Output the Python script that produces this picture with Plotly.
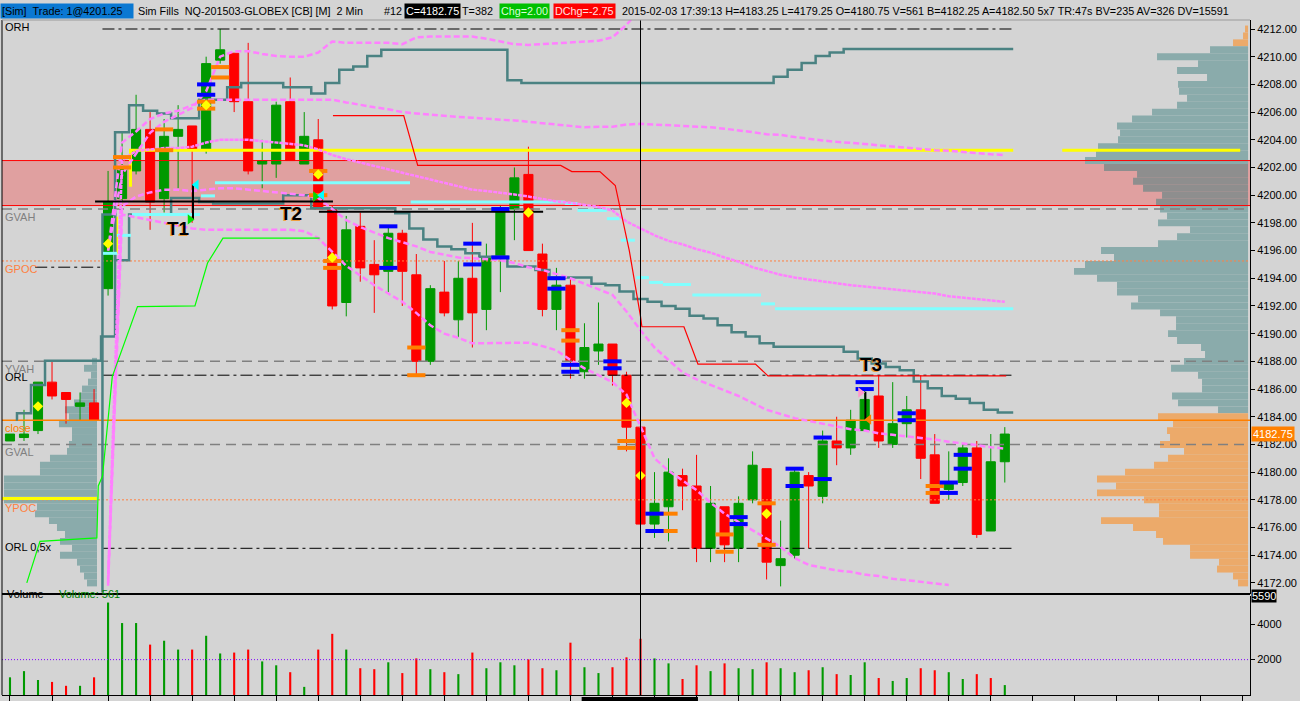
import plotly.graph_objects as go

# ---------------- data ----------------
bar_idx = list(range(72))

opens = [4182.25, 4182.5, 4183.0, 4186.5, 4185.75, 4184.75, 4185.0, 4193.25, 4199.75, 4201.75,
         4204.75, 4199.75, 4204.25, 4205.0, 4203.25, 4209.75, 4210.25, 4206.75, 4202.25, 4202.25,
         4206.75, 4202.25, 4204.0, 4199.0, 4192.25, 4197.75, 4195.0, 4194.5, 4197.25, 4194.25,
         4188.0, 4193.0, 4191.0, 4194.0, 4191.75, 4195.5, 4199.0, 4201.5, 4195.75, 4191.75,
         4193.5, 4187.25, 4188.75, 4189.25, 4187.0, 4183.25, 4176.25, 4177.5, 4179.75, 4179.0,
         4174.5, 4177.5, 4174.5, 4178.0, 4180.25, 4173.25, 4174.0, 4179.75, 4178.25, 4182.25,
         4181.75, 4183.0, 4185.5, 4182.0, 4183.5, 4184.5, 4181.25, 4178.75, 4179.25, 4181.75,
         4175.75, 4180.75]
highs = [4182.75, 4184.5, 4186.5, 4188.0, 4185.75, 4185.75, 4186.0, 4201.75, 4204.5, 4207.25,
         4206.0, 4205.5, 4206.5, 4205.0, 4210.0, 4212.0, 4210.25, 4211.0, 4204.0, 4206.75,
         4208.5, 4206.0, 4205.5, 4199.25, 4198.5, 4198.75, 4196.75, 4197.75, 4197.5, 4195.75,
         4193.5, 4195.25, 4195.25, 4198.0, 4196.5, 4199.25, 4202.0, 4203.5, 4196.5, 4194.75,
         4194.0, 4190.75, 4192.25, 4189.25, 4187.25, 4183.25, 4180.0, 4181.0, 4180.25, 4181.25,
         4179.0, 4177.5, 4178.25, 4181.5, 4180.25, 4176.5, 4180.25, 4180.0, 4183.0, 4184.0,
         4184.5, 4186.0, 4187.0, 4186.5, 4185.5, 4187.0, 4182.75, 4181.5, 4182.0, 4182.25,
         4182.75, 4183.25]
lows = [4182.25, 4182.25, 4182.75, 4185.25, 4183.5, 4183.75, 4183.75, 4192.75, 4199.5, 4201.5,
        4197.5, 4198.75, 4200.5, 4198.0, 4203.0, 4209.5, 4206.0, 4201.5, 4200.5, 4201.25,
        4202.5, 4202.25, 4199.0, 4191.75, 4191.25, 4193.75, 4191.5, 4193.0, 4192.0, 4187.0,
        4187.75, 4191.25, 4189.75, 4189.0, 4190.25, 4193.0, 4196.75, 4196.0, 4191.25, 4190.25,
        4186.75, 4186.75, 4187.75, 4186.25, 4181.5, 4176.0, 4175.25, 4175.0, 4177.25, 4173.5,
        4173.5, 4173.5, 4173.5, 4177.75, 4172.25, 4171.75, 4173.75, 4174.5, 4177.75, 4180.5,
        4181.25, 4183.0, 4181.75, 4181.75, 4182.5, 4179.5, 4177.75, 4178.0, 4179.0, 4175.25,
        4175.75, 4179.25]
closes = [4182.75, 4182.75, 4186.5, 4185.5, 4185.25, 4185.0, 4183.75, 4199.5, 4202.0, 4204.75,
          4199.5, 4204.25, 4204.75, 4203.25, 4209.5, 4210.5, 4206.75, 4201.75, 4202.5, 4206.5,
          4202.5, 4204.25, 4199.0, 4192.0, 4197.5, 4194.75, 4194.25, 4197.25, 4194.5, 4188.0,
          4193.25, 4191.5, 4194.0, 4191.5, 4195.5, 4199.0, 4201.25, 4196.0, 4191.75, 4193.5,
          4188.0, 4189.0, 4189.25, 4187.0, 4183.25, 4176.25, 4177.75, 4180.0, 4179.0, 4174.5,
          4177.75, 4174.75, 4177.75, 4180.5, 4173.5, 4173.75, 4180.0, 4179.0, 4182.25, 4181.75,
          4183.75, 4185.25, 4182.25, 4183.5, 4184.5, 4181.0, 4177.75, 4179.25, 4181.75, 4175.5,
          4180.75, 4182.75]

volumes = [1000, 1350, 850, 740, 520, 520, 1000, 5230, 4070, 4070,
           2850, 3070, 2570, 2570, 3350, 2350, 2400, 2570, 1900, 1680,
           1290, 460, 2570, 3460, 2570, 1515, 1460, 1850, 1240, 2070,
           1460, 1290, 1180, 2400, 1515, 1850, 1680, 2015, 1515, 1400,
           2960, 1570, 1240, 1570, 2130, 3180, 2070, 1790, 905, 1680,
           1350, 1790, 1515, 1460, 1850, 1515, 1290, 1400, 1570, 1180,
           1130, 1850, 960, 795, 960, 1515, 1400, 1290, 905, 1180,
           960, 561]
vol_dir = "GGGRRGRGGGRGGRGGRRGGRGRRGRRGRRGRGRGGGRRGRGGRRRGGRRGRGGRGGRGRGGRGGRRGGRRG"

price_ticks = list(range(4172, 4213, 2))
vol_ticks = [2000, 4000]
time_ticks = [0, 3] + list(range(7, 89, 3))

level_names = ["ORH", "GVAH", "GPOC", "YVAH", "ORL", "close", "GVAL", "YPOC", "ORL 0,5x"]
level_prices = [4212.0, 4199.0, 4195.25, 4188.0, 4187.0, 4183.75, 4182.0, 4178.0, 4174.5]

zone_low, zone_high = 4199.25, 4202.5
yellow_level = 4203.25

# developing value-area step lines (per bar)
teal_upper = [4183.8, 4184.25, 4186.3, 4188.05, 4188.05, 4188.05, 4188.05, 4189.8, 4204.55, 4206.5,
              4206.1, 4205.9, 4205.55, 4205.55, 4206.9, 4206.9, 4207.8, 4208.1, 4208.1, 4208.1,
              4207.8, 4207.8, 4207.35, 4208.1, 4209.05, 4209.3, 4210.05] + [4210.5] * 9 + [4208.3] + \
             [4208.1] * 18 + [4208.55, 4209.05, 4209.55, 4210.05, 4210.3] + [4210.55] * 12
teal_lower = [4198.6, 4195.3, 4198.6, 4198.6, 4198.6, 4199.8, 4199.8, 4199.5, 4199.4, 4199.4,
              4199.4, 4199.4, 4199.4, 4200.0, 4200.0, 4199.05, 4199.05, 4199.05, 4199.05, 4199.05,
              4199.05, 4198.7, 4197.6, 4196.8, 4196.3, 4196.1, 4195.8, 4195.55, 4195.55, 4194.85,
              4194.85, 4194.6, 4194.05, 4194.05, 4194.05, 4193.6, 4193.5, 4193.05, 4192.5, 4192.3,
              4192.0, 4191.8, 4191.3, 4191.1, 4190.6, 4190.1, 4189.8, 4189.3, 4189.05, 4189.05,
              4189.05, 4189.05, 4189.05, 4188.7, 4188.2, 4187.85, 4187.6, 4187.35, 4186.55, 4186.05,
              4185.5, 4185.3, 4185.0, 4184.5, 4184.3]   # bars 7..71

# VWAP and deviation bands (bars from 7)
vwap = [4172.3, 4202.5, 4203.2, 4203.3, 4203.4, 4203.4, 4203.5, 4203.8, 4204.0, 4204.0,
        4204.0, 4203.9, 4203.8, 4203.7, 4203.6, 4203.3, 4202.9, 4202.6, 4202.35, 4202.1,
        4201.85, 4201.6, 4201.4, 4201.1, 4200.9, 4200.6, 4200.4, 4200.3, 4200.2, 4200.05,
        4199.9, 4199.7, 4199.55, 4199.45, 4199.3, 4199.15, 4198.9, 4198.1, 4197.6, 4197.1,
        4196.7, 4196.45, 4196.1, 4195.85, 4195.5, 4195.2, 4194.8, 4194.5, 4194.25, 4194.05,
        4193.9, 4193.75, 4193.65, 4193.5, 4193.4, 4193.3, 4193.2, 4193.1, 4193.05, 4192.9,
        4192.7, 4192.6, 4192.45, 4192.35, 4192.3]
band_u1 = [4196.0, 4203.8, 4204.6, 4205.5, 4205.9, 4206.1, 4206.5, 4206.9, 4206.9, 4206.9,
           4206.9, 4206.9, 4206.9, 4206.9, 4206.9, 4206.9, 4206.9, 4206.7, 4206.5, 4206.35,
           4206.2, 4206.0, 4205.9, 4205.8, 4205.7, 4205.65, 4205.6, 4205.5, 4205.45, 4205.4,
           4205.3, 4205.2, 4205.1, 4205.0, 4204.9, 4204.95, 4204.95, 4205.1, 4205.15, 4205.1,
           4205.05, 4205.0, 4205.0, 4204.9, 4204.8, 4204.7, 4204.55, 4204.4, 4204.35, 4204.2,
           4204.05, 4203.95, 4203.85, 4203.8, 4203.7, 4203.6, 4203.5, 4203.45, 4203.35, 4203.25,
           4203.2, 4203.1, 4203.0, 4202.95, 4202.9]
band_u2 = [4196.0, 4201.5, 4203.0, 4204.5, 4205.3, 4205.8, 4206.3, 4207.5, 4210.0, 4210.4,
           4210.4, 4210.2, 4210.05, 4210.0, 4210.0, 4210.3, 4211.1, 4211.0, 4211.0, 4211.0,
           4211.0, 4210.9, 4211.4, 4211.45, 4211.45, 4211.45, 4211.45, 4211.3, 4211.1, 4210.9,
           4210.85, 4210.9, 4211.0, 4211.05, 4211.1, 4211.15, 4211.4, 4212.3, 4213.5]
band_l1 = [4172.0, 4199.2, 4199.9, 4200.2, 4200.4, 4200.4, 4200.3, 4200.4, 4200.5, 4200.5,
           4200.4, 4200.3, 4200.2, 4200.1, 4200.0, 4199.8, 4199.0, 4198.2, 4197.7, 4197.3,
           4196.9, 4196.6, 4196.3, 4195.9, 4195.7, 4195.5, 4195.45, 4195.4, 4195.3, 4195.1,
           4194.8, 4194.6, 4194.3, 4194.0, 4193.6, 4193.2, 4192.8, 4191.6, 4190.25, 4189.0,
           4188.1, 4187.2, 4186.7, 4186.3, 4185.9, 4185.5, 4185.0, 4184.5, 4184.2, 4183.9,
           4183.7, 4183.5, 4183.3, 4183.1, 4183.0, 4182.8, 4182.7, 4182.6, 4182.5, 4182.35,
           4182.2, 4182.1, 4181.95, 4181.8, 4181.7]
band_l2 = [4171.8, 4198.6, 4198.4, 4198.2, 4198.0, 4197.8, 4197.6, 4197.5, 4197.5, 4197.5,
           4197.5, 4197.5, 4197.5, 4197.5, 4197.4, 4196.9, 4195.9, 4194.9, 4194.2, 4193.5,
           4192.9, 4192.3, 4191.5, 4190.6, 4190.0, 4189.7, 4189.3, 4189.3, 4189.3, 4189.35,
           4189.35, 4189.1, 4188.8, 4188.1, 4187.5, 4187.0, 4186.5, 4185.6, 4183.3, 4181.0,
           4180.1, 4179.4, 4178.7, 4177.8, 4177.0, 4176.4, 4175.8, 4175.2, 4174.6, 4173.8,
           4173.3, 4173.1, 4172.9, 4172.8, 4172.6, 4172.5, 4172.3, 4172.2, 4172.1, 4172.0,
           4171.85]

# cyan stepping segments (start bar, end bar, price)
cyan_start = [6.64, 7.64, 8.7, 13.63, 14.63, 28.6, 39.6, 40.5, 42.6, 43.6, 44.7, 45.6, 46.6, 48.7, 53.6, 54.6]
cyan_end = [7.64, 8.64, 13.56, 14.63, 28.55, 39.6, 40.5, 42.6, 43.5, 44.6, 45.6, 46.6, 48.6, 53.6, 54.6, 71.6]
cyan_level = [4195.8, 4197.1, 4198.6, 4199.95, 4200.9, 4199.5, 4199.4, 4198.9, 4198.3, 4196.75,
              4194.05, 4193.7, 4193.55, 4192.8, 4192.15, 4191.8]

# red trailing line and green line
trail_x = [23.05, 28.1, 29.1, 39.3, 40.1, 42.1, 43.2, 44.2, 45.0, 45.1, 48.1, 49.1, 53.2, 54.1, 71.1]
trail_y = [4205.75, 4205.75, 4202.15, 4202.15, 4201.7, 4201.7, 4200.7, 4196.0, 4191.25, 4190.5,
           4190.5, 4187.8, 4187.8, 4186.95, 4186.95]
green_x = [1.2, 2.14, 6.2, 6.3, 6.6, 7.3, 9.1, 13.2, 14.1, 15.2, 22.1]
green_y = [4172.0, 4175.0, 4175.25, 4179.0, 4179.7, 4186.9, 4191.95, 4192.0, 4195.1, 4196.9, 4196.9]

# execution / signal markers
orange_x = [8, 8, 11, 11, 14, 14, 15, 15, 22, 22, 23, 23, 29, 29, 40, 40, 44, 44, 47, 47, 51, 51, 54, 54, 66, 66]
orange_y = [4202.75, 4202.0, 4204.75, 4203.25, 4206.75, 4206.25, 4209.25, 4208.5, 4201.75, 4200.0,
            4195.25, 4194.75, 4189.0, 4187.0, 4190.25, 4189.5, 4182.25, 4181.75, 4177.0, 4175.75,
            4175.5, 4174.25, 4177.75, 4174.75, 4179.0, 4178.5]
blue_x = [14, 14, 27, 27, 33, 33, 35, 35, 39, 39, 40, 40, 43, 43, 46, 46, 52, 52, 56, 56, 58, 58,
          61, 61, 64, 64, 67, 67, 68, 68]
blue_y = [4208.0, 4207.25, 4197.75, 4194.75, 4196.5, 4195.0, 4199.0, 4195.5, 4194.0, 4193.25,
          4187.75, 4187.25, 4188.0, 4187.5, 4177.0, 4175.75, 4176.75, 4176.25, 4180.25, 4179.0,
          4182.5, 4179.5, 4186.5, 4186.0, 4184.25, 4183.75, 4179.25, 4178.5, 4181.25, 4180.25]
diamond_x = [2, 7, 14, 22, 23, 37, 44, 45, 54]
diamond_y = [4184.75, 4196.5, 4206.5, 4201.5, 4195.5, 4198.75, 4185.0, 4179.75, 4177.0]
tri_x = [13.3, 12.85, 21.8, 22.25, 60.7, 61.3]
tri_y = [4200.75, 4198.25, 4199.9, 4200.0, 4185.75, 4183.8]

trade_labels = ["T1", "T2", "T3"]
trade_label_x = [12.0, 20.05, 61.45]
trade_label_y = [4197.6, 4198.65, 4187.8]

# volume profiles (0.5 pt rows, read as bar lengths)
right_vol = [3, 5, 15, 38, 91, 50, 71, 41, 70, 69, 61, 71, 96, 116, 131, 128, 130, 150, 152, 163,
             144, 111, 115, 105, 86, 92, 88, 81, 90, 58, 71, 90, 147, 134, 163, 174, 151, 131, 131, 110,
             117, 88, 72, 72, 80, 71, 47, 43, 64, 77, 50, 46, 46, 76, 70, 30, 90, 75, 81, 78,
             88, 64, 80, 94, 123, 151, 132, 151, 104, 89, 89, 147, 115, 92, 85, 58, 58, 29, 31, 15, 10]
right_top = 4212.0
left_vol = [5, 13, 6, 9, 15, 17, 23, 32, 28, 38, 25, 25, 28, 30, 47, 57, 57, 93, 93, 93, 93,
            60, 62, 48, 40, 32, 37, 25, 37, 20, 17, 13, 10]
left_top = 4188.0

current_price = 4182.75
volume_max_label = 5590
cursor_bar = 45

# ---------------- style ----------------
FONT = "Liberation Sans"
BG = "#d4d4d4"
GREEN, RED = "#009900", "#ff0000"
PINK = "#ff80ff"
TEAL = "#4a8282"
x_min, x_max = -0.57, 88.5
px_per_bar = 14.01
right_base = 88.36
left_base = 6.21
or_start, or_end = 6.6, 71.6

fig = go.Figure()

# profiles
right_prices = [right_top - 0.5 * i for i in range(len(right_vol))]
def prof_color(p):
    if p >= 4211 or p <= 4184:
        return "#ecaa6a"
    if zone_low < p < zone_high:
        return "#8e8e8e"
    return "#8aabab"
fig.add_trace(go.Bar(orientation="h", y=right_prices, x=[-v / px_per_bar for v in right_vol],
                     base=right_base, width=0.5,
                     marker=dict(color=[prof_color(p) for p in right_prices], line=dict(width=0)),
                     hoverinfo="skip"))
left_prices = [left_top - 0.5 * i for i in range(len(left_vol))]
fig.add_trace(go.Bar(orientation="h", y=left_prices, x=[-v / px_per_bar for v in left_vol],
                     base=left_base, width=0.5,
                     marker=dict(color="#8aabab", line=dict(width=0)), hoverinfo="skip"))

# level lines
DASHDOT = "12px,4px,3px,4px"
DASHED = "10px,6px"
DOTTED = "2px,2px"
lvl_style = {
    "ORH": ("#000000", DASHDOT, 1, "or"),
    "GVAH": ("#808080", DASHED, 1.5, "full"),
    "GPOC": ("#ff8040", DOTTED, 1, "full"),
    "YVAH": ("#808080", DASHED, 1.5, "full"),
    "ORL": ("#000000", DASHDOT, 1, "or"),
    "close": ("#ff8000", "solid", 1.5, "full"),
    "GVAL": ("#808080", DASHED, 1.5, "full"),
    "YPOC": ("#ff8040", DOTTED, 1, "full"),
    "ORL 0,5x": ("#000000", DASHDOT, 1, "or"),
}
for name, price in zip(level_names, level_prices):
    col, dash, w, ext = lvl_style[name]
    xs = [or_start, or_end] if ext == "or" else [x_min, x_max]
    fig.add_trace(go.Scatter(x=xs, y=[price, price], mode="lines",
                             line=dict(color=col, dash=dash, width=w), hoverinfo="skip"))
# short dash-dot marker left of session start at GPOC
fig.add_trace(go.Scatter(x=[1.8, 6.6], y=[4194.8, 4194.8], mode="lines",
                         line=dict(color="#000000", dash=DASHDOT, width=1), hoverinfo="skip"))

# zone border
for zp in (zone_low, zone_high):
    fig.add_trace(go.Scatter(x=[x_min, x_max], y=[zp, zp], mode="lines",
                             line=dict(color="#ff0000", width=1), hoverinfo="skip"))

# yellow lines
fig.add_trace(go.Scatter(x=[8.6, 8.6, 71.6, None, 75.1, 87.8, None, 7.6, 7.6, None, x_min, 6.2],
                         y=[4200.6, yellow_level, yellow_level, None, yellow_level, yellow_level, None,
                            4198.45, 4195.8, None, 4178.1, 4178.1],
                         mode="lines", line=dict(color="#ffff00", width=3), hoverinfo="skip"))

# teal step lines
tu_x = [0.57] + [i - 0.5 for i in range(1, 72)] + [71.6]
tu_y = teal_upper + [teal_upper[-1]]
fig.add_trace(go.Scatter(x=tu_x, y=tu_y, mode="lines", line=dict(color=TEAL, width=2.5, shape="hv"),
                         hoverinfo="skip"))
tl_x = [6.6, 6.6] + [i - 0.5 for i in range(8, 72)] + [71.6]
tl_y = [4171.3] + teal_lower + [teal_lower[-1]]
fig.add_trace(go.Scatter(x=tl_x, y=tl_y, mode="lines", line=dict(color=TEAL, width=2.5, shape="hv"),
                         hoverinfo="skip"))

# cyan segments
cx, cy = [], []
for s, e, lv in zip(cyan_start, cyan_end, cyan_level):
    cx += [s, e, None]
    cy += [lv, lv, None]
fig.add_trace(go.Scatter(x=cx, y=cy, mode="lines", line=dict(color="#80ffff", width=3), hoverinfo="skip"))

# vwap & bands
for series, dash, w in ((band_u2, "6px,3px", 2.5), (band_u1, "6px,3px", 2.5), (vwap, "4px,1px", 2.5),
                        (band_l1, "6px,3px", 2.5), (band_l2, "6px,3px", 2.5)):
    fig.add_trace(go.Scatter(x=list(range(7, 7 + len(series))), y=series, mode="lines",
                             line=dict(color=PINK, dash=dash, width=w), hoverinfo="skip"))

# red trailing line, green line
fig.add_trace(go.Scatter(x=trail_x, y=trail_y, mode="lines", line=dict(color="#ff0000", width=1.2),
                         hoverinfo="skip"))
fig.add_trace(go.Scatter(x=green_x, y=green_y, mode="lines", line=dict(color="#00ff00", width=1.2),
                         hoverinfo="skip"))

# candles
fig.add_trace(go.Candlestick(x=bar_idx, open=opens, high=highs, low=lows, close=closes,
                             increasing=dict(line=dict(color=GREEN, width=1), fillcolor=GREEN),
                             decreasing=dict(line=dict(color=RED, width=1), fillcolor=RED),
                             whiskerwidth=0, hoverinfo="skip"))

# black trade lines
fig.add_trace(go.Scatter(x=[6.07, 23.05, None, 13.06, 13.06, None, 22.05, 38.05, None, 61.05, 61.05],
                         y=[4199.55, 4199.55, None, 4200.8, 4198.2, None, 4198.8, 4198.8, None, 4185.8, 4183.8],
                         mode="lines", line=dict(color="#000000", width=2), hoverinfo="skip"))

# markers
fig.add_trace(go.Scatter(x=orange_x, y=orange_y, mode="markers",
                         marker=dict(symbol="line-ew", size=13, line=dict(width=4, color="#ff8000")),
                         hoverinfo="skip"))
fig.add_trace(go.Scatter(x=blue_x, y=blue_y, mode="markers",
                         marker=dict(symbol="line-ew", size=13, line=dict(width=4, color="#0000ff")),
                         hoverinfo="skip"))
fig.add_trace(go.Scatter(x=diamond_x, y=diamond_y, mode="markers",
                         marker=dict(symbol="diamond", size=8, color="#ffff00", line=dict(width=0)),
                         hoverinfo="skip"))
fig.add_trace(go.Scatter(x=tri_x, y=tri_y, mode="markers",
                         marker=dict(symbol=["triangle-left", "triangle-right", "triangle-right",
                                             "triangle-left", "triangle-right", "triangle-left"],
                                     size=9,
                                     color=["#00ffff", "#00e000", "#00e000", "#00ffff", "#ff99cc", "#ff8000"],
                                     line=dict(width=0)),
                         hoverinfo="skip"))

# volume
vol_colors = [GREEN if d == "G" else RED for d in vol_dir]
fig.add_trace(go.Bar(x=bar_idx, y=volumes, width=0.15, marker=dict(color=vol_colors, line=dict(width=0)),
                     yaxis="y2", hoverinfo="skip"))
fig.add_trace(go.Scatter(x=[x_min, x_max], y=[2000, 2000], mode="lines", yaxis="y2",
                         line=dict(color="#8000ff", dash="1px,2px", width=1), hoverinfo="skip"))

# ---------------- annotations ----------------
ann = []
def hx(px):
    return (px - 2) / 1248.0

header = [
    ("[Sim]\u00a0\u00a0Trade: 1@4201.25", 0, 130, "#0a78d2", "#000000"),
    ("Sim Fills\u00a0\u00a0NQ-201503-GLOBEX [CB] [M]\u00a0\u00a02 Min", 136, None, None, "#000000"),
    ("#12", 382, None, None, "#000000"),
    ("C=4182.75", 404, None, "#000000", "#ffffff"),
    ("T=382", 460, None, None, "#000000"),
    ("Chg=2.00", 499, None, "#00c000", "#d8ffd8"),
    ("DChg=-2.75", 553, None, "#ff0000", "#ffe0e0"),
    ("2015-02-03 17:39:13 H=4183.25 L=4179.25 O=4180.75 V=561 B=4182.25 A=4182.50 5x7 TR:47s BV=235 AV=326 DV=15591",
     620, None, None, "#000000"),
]
for text, px, w, bg, fc in header:
    a = dict(text=text, xref="paper", yref="paper", x=hx(px), y=1, xanchor="left", yanchor="bottom",
             yshift=1, showarrow=False, align="left", font=dict(family=FONT, size=10.8, color=fc),
             borderpad=1)
    if w:
        a["width"] = w
    if bg:
        a["bgcolor"] = bg
    ann.append(a)

lbl_style = {
    "ORH": ("#000000", "middle", 2),
    "GVAH": ("#808080", "top", 0),
    "GPOC": ("#ff8040", "top", 0),
    "ORL": ("#000000", "middle", -2),
    "YVAH": ("#808080", "top", 0),
    "close": ("#ff8000", "top", 0),
    "GVAL": ("#808080", "top", 0),
    "YPOC": ("#ff8040", "top", 0),
    "ORL 0,5x": ("#000000", "middle", 1),
}
for name in ["ORH", "GVAH", "GPOC", "ORL", "YVAH", "close", "GVAL", "YPOC", "ORL 0,5x"]:
    price = level_prices[level_names.index(name)]
    col, anc, sh = lbl_style[name]
    ann.append(dict(text=name, xref="paper", yref="y", x=0, y=price, xanchor="left", yanchor=anc,
                    yshift=sh, xshift=1, showarrow=False, font=dict(family=FONT, size=11, color=col)))

for t, tx, ty in zip(trade_labels, trade_label_x, trade_label_y):
    ann.append(dict(text="<b>" + t + "</b>", x=tx, y=ty, xref="x", yref="y", showarrow=False,
                    font=dict(family=FONT, size=19, color="#000000", shadow="-1px 1px 0px #f0a040")))

ann.append(dict(text="%.2f" % current_price, xref="paper", yref="y", x=1, y=current_price,
                xanchor="left", yanchor="middle", xshift=1, showarrow=False, bgcolor="#ff8000",
                font=dict(family=FONT, size=11, color="#ffffff"), borderpad=1))
ann.append(dict(text=str(volume_max_label), xref="paper", yref="y2", x=1, y=volume_max_label,
                xanchor="left", yanchor="middle", xshift=1, showarrow=False, bgcolor="#000000",
                font=dict(family=FONT, size=11, color="#ffffff"), borderpad=0))
ann.append(dict(text="Volume", xref="paper", yref="y2 domain", x=hx(5), y=1, xanchor="left",
                yanchor="middle", yshift=2, showarrow=False, font=dict(family=FONT, size=11, color="#000000")))
ann.append(dict(text="Volume: %d" % volumes[-1], xref="paper", yref="y2 domain", x=hx(57), y=1,
                xanchor="left", yanchor="middle", yshift=2, showarrow=False,
                font=dict(family=FONT, size=11, color="#008000")))

# ---------------- shapes ----------------
shapes = [
    dict(type="rect", xref="paper", yref="y", x0=0, x1=1, y0=zone_low, y1=zone_high,
         fillcolor="#e0a0a0", line=dict(width=0), layer="below"),
    dict(type="line", xref="paper", yref="y domain", x0=0, x1=1, y0=0, y1=0,
         line=dict(color="#000000", width=2), layer="above"),
    dict(type="line", xref="x", yref="paper", x0=cursor_bar, x1=cursor_bar, y0=0, y1=1,
         line=dict(color="#000000", width=1), layer="above"),
    dict(type="line", xref="paper", yref="paper", x0=0, x1=0, y0=0, y1=1,
         line=dict(color="#000000", width=1), layer="above"),
    dict(type="line", xref="paper", yref="paper", x0=0, x1=1, y0=1, y1=1,
         line=dict(color="#9a9a9a", width=1), layer="above"),
    dict(type="rect", xref="x", yref="paper", x0=40.8, x1=49.1, y0=-0.009, y1=-0.003,
         fillcolor="#000000", line=dict(width=0), layer="above"),
]

axis_font = dict(family=FONT, size=11, color="#000000")
fig.update_layout(
    width=1300, height=701, margin=dict(l=2, r=50, t=20, b=6),
    paper_bgcolor=BG, plot_bgcolor=BG, showlegend=False, barmode="overlay",
    boxgap=0.35, boxgroupgap=0,
    annotations=ann, shapes=shapes,
    xaxis=dict(domain=[0, 1], range=[x_min, x_max], anchor="y2", showgrid=False, zeroline=False,
               showline=True, linecolor="#000000", linewidth=1, ticks="outside", ticklen=5,
               tickcolor="#000000", tickvals=time_ticks, showticklabels=False,
               rangeslider=dict(visible=False)),
    yaxis=dict(domain=[101 / 675, 1], range=[4171.2, 4212.65], side="right", anchor="x",
               showgrid=False, zeroline=False, showline=True, linecolor="#000000", linewidth=1,
               ticks="outside", ticklen=4, tickcolor="#000000", tickvals=price_ticks,
               ticktext=["%.2f" % p for p in price_ticks], tickfont=axis_font),
    yaxis2=dict(domain=[0, 99 / 675], range=[0, 5600], side="right", anchor="x",
                showgrid=False, zeroline=False, showline=True, linecolor="#000000", linewidth=1,
                ticks="outside", ticklen=4, tickcolor="#000000", tickvals=vol_ticks,
                ticktext=[str(v) for v in vol_ticks], tickfont=axis_font),
)

fig.write_html("out.html", config={"displayModeBar": False},
               post_script="document.body.style.margin='0px';document.body.style.overflow='hidden';")
